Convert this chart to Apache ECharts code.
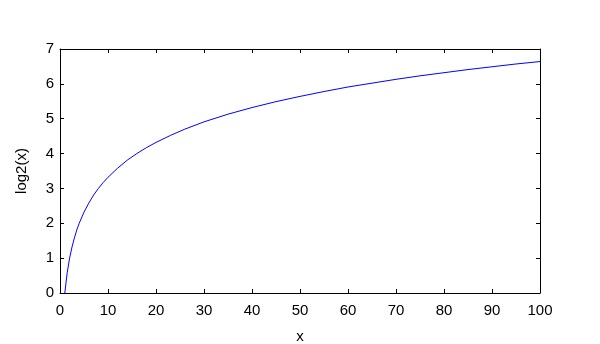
<!DOCTYPE html>
<html><head><meta charset="utf-8">
<script src="https://cdn.jsdelivr.net/npm/echarts@6/dist/echarts.min.js"></script>
<style>html,body{margin:0;padding:0;background:#fff}#c{width:600px;height:344px}</style>
</head><body><div id="c"></div>
<script>
var xValues = [1, 1.5, 2, 2.5, 3, 3.5, 4, 5, 6, 7, 8, 9, 10, 12, 14, 16, 18, 20, 23, 26, 30, 35, 40, 45, 50, 55, 60, 65, 70, 75, 80, 85, 90, 95, 100];
var yValues = [0, 0.58, 1, 1.32, 1.58, 1.81, 2, 2.32, 2.58, 2.81, 3, 3.17, 3.32, 3.58, 3.81, 4, 4.17, 4.32, 4.52, 4.70, 4.91, 5.13, 5.32, 5.49, 5.64, 5.78, 5.91, 6.02, 6.13, 6.23, 6.32, 6.41, 6.49, 6.57, 6.64];
var xTicks = [0, 10, 20, 30, 40, 50, 60, 70, 80, 90, 100];
var yTicks = [0, 1, 2, 3, 4, 5, 6, 7];
var xLabel = 'x';
var yLabel = 'log2(x)';

var font = 'Liberation Sans, Arial, sans-serif';
var axisLine = {show: true, onZero: false, lineStyle: {color: '#000', width: 1}};
var tick = {show: true, inside: true, length: 4, lineStyle: {color: '#000', width: 1}};
var chart = echarts.init(document.getElementById('c'), null, {renderer: 'canvas'});
chart.setOption({
  animation: false,
  grid: {left: 60, right: 60, top: 49, bottom: 51, containLabel: false, outerBoundsMode: 'none'},
  xAxis: [{
    type: 'value', position: 'bottom', min: xTicks[0], max: xTicks[xTicks.length-1], interval: 10,
    name: xLabel, nameLocation: 'middle', nameGap: 36,
    nameTextStyle: {color: '#000', fontSize: 15, fontFamily: font},
    axisLine: axisLine, axisTick: tick, splitLine: {show: false},
    axisLabel: {color: '#000', fontSize: 15, fontFamily: font, margin: 10}
  }, {
    type: 'value', position: 'top', min: xTicks[0], max: xTicks[xTicks.length-1], interval: 10,
    axisLine: axisLine, axisTick: tick, splitLine: {show: false}, axisLabel: {show: false}
  }],
  yAxis: [{
    type: 'value', position: 'left', min: yTicks[0], max: yTicks[yTicks.length-1], interval: 1,
    name: yLabel, nameLocation: 'middle', nameGap: 31, nameRotate: 90,
    nameTextStyle: {color: '#000', fontSize: 15, fontFamily: font},
    axisLine: axisLine, axisTick: tick, splitLine: {show: false},
    axisLabel: {color: '#000', fontSize: 15, fontFamily: font, margin: 6}
  }, {
    type: 'value', position: 'right', min: yTicks[0], max: yTicks[yTicks.length-1], interval: 1,
    axisLine: axisLine, axisTick: tick, splitLine: {show: false}, axisLabel: {show: false}
  }],
  series: [{
    type: 'line', showSymbol: false, smooth: false,
    lineStyle: {color: '#0000ff', width: 1},
    data: xValues.map(function (x, i) { return [x, yValues[i]]; })
  }]
});
</script></body></html>
